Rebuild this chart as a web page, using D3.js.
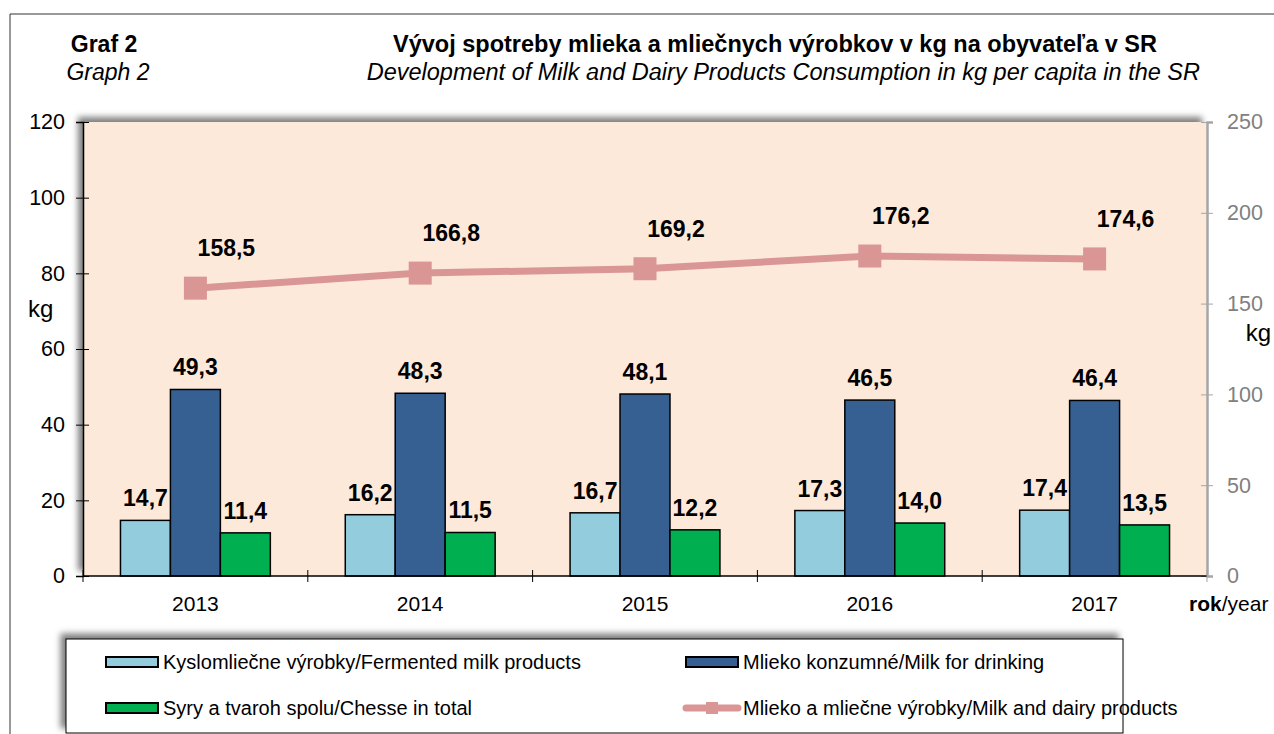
<!DOCTYPE html>
<html>
<head>
<meta charset="utf-8">
<script src="https://cdn.jsdelivr.net/npm/d3@7"></script>
<style>
  body { margin: 0; background: #fff; }
  text { font-family: Arial, "Liberation Sans", sans-serif; }
</style>
</head>
<body>
<div id="chart"></div>
<script>
// data
var years = ["2013", "2014", "2015", "2016", "2017"];
var fermented = [14.7, 16.2, 16.7, 17.3, 17.4];
var drinking = [49.3, 48.3, 48.1, 46.5, 46.4];
var cheese = [11.4, 11.5, 12.2, 14.0, 13.5];
var dairyTotal = [158.5, 166.8, 169.2, 176.2, 174.6];
var leftTicks = [0, 20, 40, 60, 80, 100, 120];
var rightTicks = [0, 50, 100, 150, 200, 250];

var barSeries = [
  {name: "Kyslomliečne výrobky/Fermented milk products", values: fermented, color: "#93cddd"},
  {name: "Mlieko konzumné/Milk for drinking", values: drinking, color: "#376092"},
  {name: "Syry a tvaroh spolu/Chesse in total", values: cheese, color: "#00b050"}
];
var lineColor = "#d99694";

var W = 1274, H = 734;
var plot = {left: 83, right: 1207, top: 122, bottom: 576};

var fmt = function(v) { return d3.format(".1f")(v).replace(".", ","); };

var svg = d3.select("#chart").append("svg")
    .attr("width", W)
    .attr("height", H);

// shadow going up and left, like the excel frame
var defs = svg.append("defs");
var f = defs.append("filter").attr("id", "shade")
    .attr("x", "-5%").attr("y", "-20%").attr("width", "110%").attr("height", "140%");
f.append("feDropShadow")
    .attr("dx", -5).attr("dy", -5).attr("stdDeviation", 3)
    .attr("flood-color", "#000").attr("flood-opacity", 0.5);

// outer frame (only left and top edges are visible)
svg.append("path")
    .attr("d", "M10," + H + "V14H" + W)
    .attr("fill", "none")
    .attr("stroke", "#333")
    .attr("stroke-width", 1);

// titles
svg.append("text").attr("x", 104).attr("y", 52)
    .attr("text-anchor", "middle").attr("font-size", 23).attr("font-weight", "bold")
    .text("Graf 2");
svg.append("text").attr("x", 108).attr("y", 80)
    .attr("text-anchor", "middle").attr("font-size", 23).attr("font-style", "italic")
    .text("Graph 2");
svg.append("text").attr("x", 775).attr("y", 52)
    .attr("text-anchor", "middle").attr("font-size", 23.5).attr("font-weight", "bold")
    .text("Vývoj spotreby mlieka a mliečnych výrobkov v kg na obyvateľa v SR");
svg.append("text").attr("x", 1200).attr("y", 80)
    .attr("text-anchor", "end").attr("font-size", 23.5).attr("font-style", "italic")
    .text("Development of Milk and Dairy Products Consumption in kg per capita in the SR");

// scales
var x = d3.scaleBand().domain(years).range([plot.left, plot.right]).padding(0);
var bw = x.bandwidth();
var x1 = d3.scaleBand().domain(d3.range(barSeries.length)).range([bw / 6, bw * 5 / 6]).padding(0);
var y = d3.scaleLinear().domain([0, 120]).range([plot.bottom, plot.top]);
var y2 = d3.scaleLinear().domain([0, 250]).range([plot.bottom, plot.top]);

// plot area
svg.append("rect")
    .attr("x", plot.left).attr("y", plot.top)
    .attr("width", plot.right - plot.left).attr("height", plot.bottom - plot.top)
    .attr("fill", "#fde9d9")
    .attr("filter", "url(#shade)");

// bars
var groups = svg.append("g").selectAll("g")
    .data(barSeries)
    .enter().append("g");

groups.selectAll("rect")
    .data(function(s, i) { return s.values.map(function(v, j) { return {v: v, yr: years[j], i: i, c: s.color}; }); })
    .enter().append("rect")
    .attr("x", function(d) { return x(d.yr) + x1(d.i); })
    .attr("y", function(d) { return y(d.v); })
    .attr("width", x1.bandwidth())
    .attr("height", function(d) { return y(0) - y(d.v); })
    .attr("fill", function(d) { return d.c; })
    .attr("stroke", "#000")
    .attr("stroke-width", 1.5);

groups.selectAll("text")
    .data(function(s, i) { return s.values.map(function(v, j) { return {v: v, yr: years[j], i: i}; }); })
    .enter().append("text")
    .attr("x", function(d) { return x(d.yr) + x1(d.i) + x1.bandwidth() / 2; })
    .attr("y", function(d) { return y(d.v) - 14; })
    .attr("text-anchor", "middle")
    .attr("font-size", 23).attr("font-weight", "bold")
    .text(function(d) { return fmt(d.v); });

// left axis
var yAxis = svg.append("g")
    .attr("transform", "translate(" + plot.left + ",0)")
    .call(d3.axisLeft(y).tickValues(leftTicks).tickSize(7).tickPadding(11).tickFormat(d3.format("d")));
yAxis.select(".domain").attr("stroke", "#000").attr("stroke-width", 1.5);
yAxis.selectAll(".tick line").attr("x1", 6).attr("stroke", "#000");
yAxis.selectAll(".tick text").attr("font-size", 21.5).attr("fill", "#000")
    .style("font-family", "Arial, 'Liberation Sans', sans-serif");

// right axis
var y2Axis = svg.append("g")
    .attr("transform", "translate(" + plot.right + ",0)")
    .call(d3.axisRight(y2).tickValues(rightTicks).tickSize(6).tickPadding(14));
y2Axis.select(".domain").attr("stroke", "#a6a6a6").attr("stroke-width", 2.5);
y2Axis.selectAll(".tick line").attr("x1", -6).attr("stroke", "#a6a6a6");
y2Axis.selectAll(".tick text").attr("font-size", 21.5).attr("fill", "#808080")
    .style("font-family", "Arial, 'Liberation Sans', sans-serif");

// x axis, ticks between the years
var xAxis = svg.append("g").attr("transform", "translate(0," + plot.bottom + ")");
xAxis.append("line")
    .attr("x1", plot.left).attr("x2", plot.right)
    .attr("stroke", "#000").attr("stroke-width", 1.5);
xAxis.selectAll(".xt")
    .data(years.concat(["end"]))
    .enter().append("line")
    .attr("class", "xt")
    .attr("x1", function(d, i) { return plot.left + i * bw; })
    .attr("x2", function(d, i) { return plot.left + i * bw; })
    .attr("y1", -6).attr("y2", 6)
    .attr("stroke", function(d, i) { return i === years.length ? "#a6a6a6" : "#000"; });
xAxis.selectAll(".xl")
    .data(years)
    .enter().append("text")
    .attr("class", "xl")
    .attr("x", function(d) { return x(d) + bw / 2; })
    .attr("y", 35)
    .attr("text-anchor", "middle")
    .attr("font-size", 21)
    .text(function(d) { return d; });

// axis titles
svg.append("text").attr("x", 28).attr("y", 317).attr("font-size", 24).text("kg");
svg.append("text").attr("x", 1271).attr("y", 341).attr("text-anchor", "end")
    .attr("font-size", 24).text("kg");
var rok = svg.append("text").attr("x", 1189).attr("y", 611).attr("font-size", 21);
rok.append("tspan").attr("font-weight", "bold").text("rok");
rok.append("tspan").text("/year");

// line on the right axis
var line = d3.line()
    .x(function(d, i) { return x(years[i]) + bw / 2; })
    .y(function(d) { return y2(d); });

svg.append("path")
    .datum(dairyTotal)
    .attr("d", line)
    .attr("fill", "none")
    .attr("stroke", lineColor)
    .attr("stroke-width", 7);

svg.append("g").selectAll("rect")
    .data(dairyTotal)
    .enter().append("rect")
    .attr("x", function(d, i) { return x(years[i]) + bw / 2 - 11.5; })
    .attr("y", function(d) { return y2(d) - 11.5; })
    .attr("width", 23).attr("height", 23)
    .attr("fill", lineColor);

svg.append("g").selectAll("text")
    .data(dairyTotal)
    .enter().append("text")
    .attr("x", function(d, i) { return x(years[i]) + bw / 2 + 31; })
    .attr("y", function(d) { return y2(d) - 32; })
    .attr("text-anchor", "middle")
    .attr("font-size", 23).attr("font-weight", "bold")
    .text(function(d) { return fmt(d); });

// legend
var lg = svg.append("g");
lg.append("rect")
    .attr("x", 66).attr("y", 639).attr("width", 1057).attr("height", 94)
    .attr("fill", "#fff").attr("stroke", "#000").attr("stroke-width", 1)
    .attr("filter", "url(#shade)");

var legendItems = [
  {s: barSeries[0], x: 106, y: 662, type: "bar"},
  {s: barSeries[1], x: 686, y: 662, type: "bar"},
  {s: barSeries[2], x: 106, y: 708, type: "bar"},
  {s: {name: "Mlieko a mliečne výrobky/Milk and dairy products", color: lineColor}, x: 686, y: 708, type: "line"}
];

legendItems.forEach(function(it) {
  if (it.type === "bar") {
    lg.append("rect")
        .attr("x", it.x).attr("y", it.y - 5).attr("width", 52).attr("height", 10)
        .attr("fill", it.s.color).attr("stroke", "#000").attr("stroke-width", 2);
  } else {
    lg.append("line")
        .attr("x1", it.x).attr("x2", it.x + 52).attr("y1", it.y).attr("y2", it.y)
        .attr("stroke", it.s.color).attr("stroke-width", 7).attr("stroke-linecap", "round");
    lg.append("rect")
        .attr("x", it.x + 20).attr("y", it.y - 6).attr("width", 12).attr("height", 12)
        .attr("fill", it.s.color);
  }
  lg.append("text")
      .attr("x", it.x + 57).attr("y", it.y + 7)
      .attr("font-size", 20)
      .text(it.s.name);
});
</script>
</body>
</html>
